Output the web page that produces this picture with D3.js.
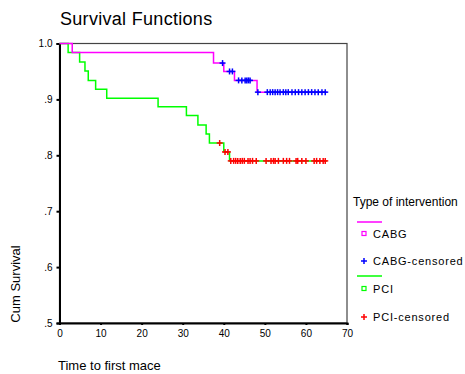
<!DOCTYPE html>
<html>
<head>
<meta charset="utf-8">
<script src="https://cdn.jsdelivr.net/npm/d3@7"></script>
<style>
  body { margin: 0; background: #fff; }
  text { font-family: "Liberation Sans", Arial, sans-serif; fill: #000; }
</style>
</head>
<body>
<div id="chart"></div>
<script>
// step times and survival for each group
var cabgTimes = [0, 3.1, 37.5, 40.0, 42.6, 48.1];
var cabgSurv = [1.0, 0.984, 0.965, 0.950, 0.934, 0.913];
var cabgCensored = [39.7, 41.4, 42.1, 43.6, 44.4, 45.2, 45.6, 46.0, 46.4,
  48.3, 50.6, 51.3, 51.9, 52.5, 53.1, 53.7, 54.5, 55.1, 55.7, 56.6, 57.4,
  58.2, 59.0, 59.8, 60.6, 61.4, 62.2, 63.0, 63.9, 64.7];

var pciTimes = [0, 2.1, 4.9, 6.2, 7.0, 8.8, 11.5, 24.0, 30.9, 33.7, 35.7, 36.5, 40.0, 41.4];
var pciSurv = [1.0, 0.984, 0.967, 0.951, 0.934, 0.918, 0.902, 0.887, 0.871, 0.854, 0.838, 0.822, 0.806, 0.790];
var pciCensored = [39.0, 40.3, 41.0, 41.7, 42.4, 42.9, 43.4, 44.0, 44.5, 45.0,
  45.9, 46.4, 47.0, 47.9, 50.3, 51.5, 52.1, 52.5, 53.3, 54.5, 55.3, 56.0,
  57.6, 58.0, 59.0, 60.0, 62.0, 62.6, 63.4, 64.2, 64.7];

var lastTime = 65.1;
var xTicks = [0, 10, 20, 30, 40, 50, 60, 70];
var yTicks = [0.5, 0.6, 0.7, 0.8, 0.9, 1.0];
var yTickLabels = [".5", ".6", ".7", ".8", ".9", "1.0"];
var legendItems = ["CABG", "CABG-censored", "PCI", "PCI-censored"];

var W = 465, H = 374;
var margin = { top: 43.5, left: 59.5, right: 118, bottom: 51 };

var svg = d3.select("#chart").append("svg")
  .attr("width", W).attr("height", H);

var x = d3.scaleLinear().domain([0, 70]).range([margin.left, W - margin.right]);
var y = d3.scaleLinear().domain([0.5, 1.0]).range([H - margin.bottom, margin.top]);

// title
svg.append("text").attr("x", 60).attr("y", 25)
  .style("font-size", "18px").style("letter-spacing", "0.3px").text("Survival Functions");

// frame (thin) then axes (thick)
svg.append("rect")
  .attr("x", x(0)).attr("y", y(1.0))
  .attr("width", x(70) - x(0)).attr("height", y(0.5) - y(1.0))
  .attr("fill", "none").attr("stroke", "#444").attr("stroke-width", 1.2);

var xAxis = svg.append("g")
  .attr("transform", "translate(0," + y(0.5) + ")")
  .call(d3.axisBottom(x).tickValues(xTicks).tickSize(2).tickFormat(d3.format("d")));
var yAxis = svg.append("g")
  .attr("transform", "translate(" + x(0) + ",0)")
  .call(d3.axisLeft(y).tickValues(yTicks).tickSize(3)
    .tickFormat(function (d, i) { return yTickLabels[i]; }));

[xAxis, yAxis].forEach(function (g) {
  g.select(".domain").attr("stroke", "#000").attr("stroke-width", 2);
  g.selectAll(".tick line").attr("stroke", "#000").attr("stroke-width", 2);
  g.selectAll(".tick text").style("font-size", "10px")
    .style("font-family", "'Liberation Sans', Arial, sans-serif").attr("fill", "#000");
});
xAxis.selectAll(".tick text").attr("y", 7);
yAxis.selectAll(".tick text").attr("x", -7);

// survival step lookup
function survAt(times, surv, t) {
  var i = d3.bisectRight(times, t) - 1;
  return surv[Math.max(0, i)];
}

function stepData(times, surv) {
  var pts = times.map(function (t, i) { return [t, surv[i]]; });
  pts.push([lastTime, surv[surv.length - 1]]);
  return pts;
}

var line = d3.line()
  .x(function (d) { return x(d[0]); })
  .y(function (d) { return y(d[1]); })
  .curve(d3.curveStepAfter);

var groups = [
  { times: pciTimes, surv: pciSurv, cens: pciCensored, color: "#00ff00", cross: "#ff0000" },
  { times: cabgTimes, surv: cabgSurv, cens: cabgCensored, color: "#ff00ff", cross: "#0000ff" }
];

groups.forEach(function (g) {
  svg.append("path")
    .datum(stepData(g.times, g.surv))
    .attr("d", line)
    .attr("fill", "none")
    .attr("stroke", g.color)
    .attr("stroke-width", 1.5);
});

// censor marks
function plus(sel, color, s) {
  sel.append("line").attr("x1", -s).attr("x2", s).attr("y1", 0).attr("y2", 0)
    .attr("stroke", color).attr("stroke-width", 1.5);
  sel.append("line").attr("x1", 0).attr("x2", 0).attr("y1", -s).attr("y2", s)
    .attr("stroke", color).attr("stroke-width", 1.5);
}

groups.forEach(function (g) {
  svg.append("g").selectAll("g")
    .data(g.cens)
    .enter().append("g")
    .attr("transform", function (t) {
      return "translate(" + x(t) + "," + y(survAt(g.times, g.surv, t)) + ")";
    })
    .call(plus, g.cross, 3);
});

// axis titles
svg.append("text").attr("x", 58).attr("y", 370)
  .style("font-size", "13px").text("Time to first mace");
svg.append("text")
  .attr("transform", "translate(20,284) rotate(-90)")
  .attr("text-anchor", "middle")
  .style("font-size", "13px").text("Cum Survival");

// legend
var lg = svg.append("g");
lg.append("text").attr("x", 353).attr("y", 206).style("font-size", "12px").text("Type of intervention");

var legendY = [234, 261, 289, 317];
var lineY = [222, 276];
var legendColors = ["#ff00ff", "#0000ff", "#00ff00", "#ff0000"];

lineY.forEach(function (ly, i) {
  lg.append("line").attr("x1", 357).attr("x2", 382).attr("y1", ly).attr("y2", ly)
    .attr("stroke", legendColors[i * 2]).attr("stroke-width", 1.5);
});

legendItems.forEach(function (name, i) {
  var gy = legendY[i];
  if (i % 2 === 0) {
    lg.append("rect").attr("x", 362).attr("y", gy - 2.5).attr("width", 4).attr("height", 4)
      .attr("fill", "none").attr("stroke", legendColors[i]).attr("stroke-width", 1.2);
  } else {
    lg.append("g").attr("transform", "translate(364," + gy + ")").call(plus, legendColors[i], 3);
  }
  lg.append("text").attr("x", 373).attr("y", gy + 4).style("font-size", "11px")
    .style("letter-spacing", "0.8px").text(name);
});
</script>
</body>
</html>
